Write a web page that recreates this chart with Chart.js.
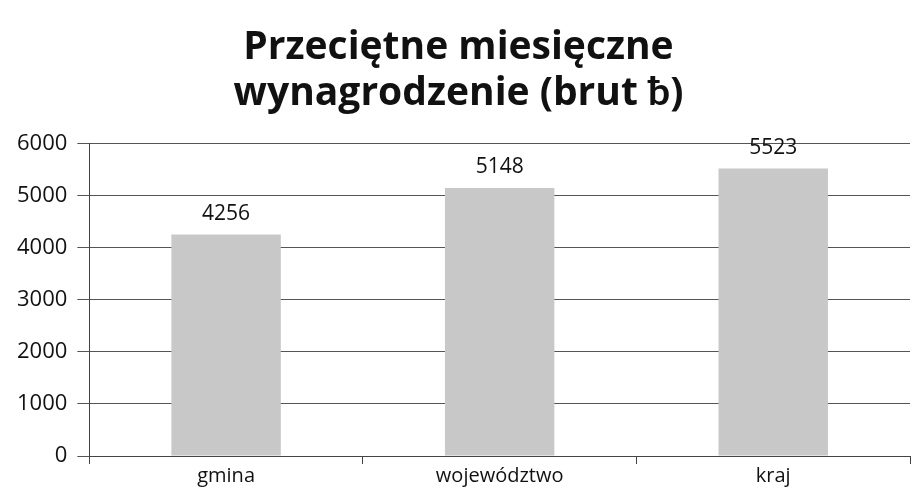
<!DOCTYPE html>
<html>

<head>
    <meta charset="utf-8" />
    <title>Przeciętne miesięczne wynagrodzenie</title>
    <style>
        html, body { margin: 0; padding: 0; background: #ffffff; }
        #wrap { width: 913px; height: 497px; }
    </style>
</head>

<body>
    <div id="wrap">
        <canvas id="chart" width="913" height="497"></canvas>
    </div>

    <script src="https://cdn.jsdelivr.net/npm/chart.js"></script>
    <script type="text/javascript">

        // dane z wykresu
        const kategorie = ['gmina', 'województwo', 'kraj'];
        const wynagrodzenie = [4256, 5148, 5523];
        const tytul = ['Przeciętne miesięczne', 'wynagrodzenie (brut ƀ)'];
        const osY = [0, 1000, 2000, 3000, 4000, 5000, 6000];

        const czcionka = '"Open Sans", Lato, sans-serif';

        // etykiety wartosci nad slupkami
        const etykiety = {
            id: 'etykiety',
            afterDatasetsDraw(chart) {
                const ctx = chart.ctx;
                const meta = chart.getDatasetMeta(0);
                ctx.save();
                ctx.font = '21px ' + czcionka;
                ctx.fillStyle = '#111';
                ctx.textAlign = 'center';
                ctx.textBaseline = 'bottom';
                meta.data.forEach((bar, i) => {
                    ctx.fillText(chart.data.datasets[0].data[i], bar.x, bar.y - 10);
                });
                ctx.restore();
            }
        };

        const ctx = document.getElementById('chart').getContext('2d');
        const myChart = new Chart(ctx, {
            type: 'bar',
            data: {
                labels: kategorie,
                datasets: [{
                    data: wynagrodzenie,
                    backgroundColor: '#c8c8c8',
                    borderWidth: 0,
                    barPercentage: 0.4,
                    categoryPercentage: 1
                }]
            },
            options: {
                responsive: false,
                animation: false,
                layout: { padding: { left: 7, right: 3, top: 0, bottom: 9 } },
                plugins: {
                    legend: { display: false },
                    tooltip: { enabled: false },
                    title: {
                        display: true,
                        text: tytul,
                        color: '#111',
                        font: { family: czcionka, size: 39, weight: 'bold', lineHeight: 1.2 },
                        padding: { top: 24, bottom: 26 }
                    }
                },
                scales: {
                    x: {
                        offset: true,
                        grid: {
                            offset: true,
                            drawOnChartArea: false,
                            drawTicks: true,
                            tickLength: 8,
                            color: '#444'
                        },
                        border: { display: true, color: '#444', width: 1 },
                        ticks: { color: '#111', font: { family: czcionka, size: 20 }, padding: 0 }
                    },
                    y: {
                        min: osY[0],
                        max: osY[osY.length - 1],
                        afterBuildTicks: axis => { axis.ticks = osY.map(v => ({ value: v })); },
                        grid: { color: '#555', lineWidth: 1, drawTicks: true, tickLength: 12 },
                        border: { display: true, color: '#444', width: 1 },
                        ticks: {
                            color: '#111',
                            font: { family: czcionka, size: 22 },
                            padding: 10,
                            callback: v => String(v)
                        }
                    }
                }
            },
            plugins: [etykiety]
        });

    </script>

</body>

</html>
